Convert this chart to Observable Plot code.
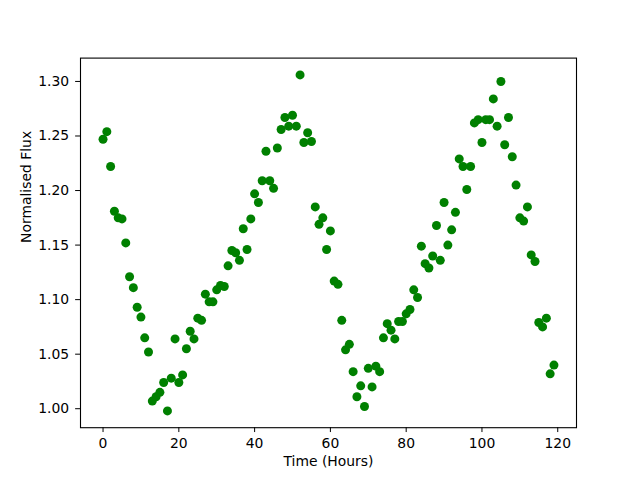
<!DOCTYPE html>
<html><head><meta charset="utf-8">
<script src="https://cdn.jsdelivr.net/npm/d3@7"></script>
<script src="https://cdn.jsdelivr.net/npm/@observablehq/plot@0.6"></script>
<style>html,body{margin:0;padding:0;background:#fff}</style>
</head><body><div id="chart"></div>
<script>
const hours = [0,1,2,3,4,5,6,7,8,9,10,11,12,13,14,15,16,17,18,19,
  20,21,22,23,24,25,26,27,28,29,30,31,32,33,34,35,36,37,38,39,
  40,41,42,43,44,45,46,47,48,49,50,51,52,53,54,55,56,57,58,59,
  60,61,62,63,64,65,66,67,68,69,70,71,72,73,74,75,76,77,78,79,
  80,81,82,83,84,85,86,87,88,89,90,91,92,93,94,95,96,97,98,99,
  100,101,102,103,104,105,106,107,108,109,110,111,112,113,114,115,116,117,118,119];
const flux = [1.247,1.254,1.222,1.181,1.175,1.174,1.152,1.121,1.111,1.093,
  1.084,1.065,1.052,1.007,1.011,1.015,1.024,0.998,1.028,1.064,
  1.024,1.031,1.055,1.071,1.064,1.083,1.081,1.105,1.098,1.098,
  1.109,1.113,1.112,1.131,1.145,1.143,1.136,1.165,1.146,1.174,
  1.197,1.189,1.209,1.236,1.209,1.202,1.239,1.256,1.267,1.259,
  1.269,1.259,1.306,1.244,1.253,1.245,1.185,1.169,1.175,1.146,
  1.163,1.117,1.114,1.081,1.054,1.059,1.034,1.011,1.021,1.002,
  1.037,1.020,1.039,1.034,1.065,1.078,1.072,1.064,1.080,1.080,
  1.087,1.091,1.109,1.102,1.149,1.133,1.129,1.140,1.168,1.136,
  1.189,1.150,1.164,1.180,1.229,1.222,1.201,1.222,1.262,1.265,
  1.244,1.265,1.265,1.284,1.259,1.300,1.242,1.267,1.231,1.205,
  1.175,1.172,1.185,1.141,1.135,1.079,1.075,1.083,1.032,1.040];
const xTicks = [0,20,40,60,80,100,120];
const yTicks = [1.00,1.05,1.10,1.15,1.20,1.25,1.30];
const xLabel = "Time (Hours)";
const yLabel = "Normalised Flux";

const data = hours.map((h,i)=>({hour:h, flux:flux[i]}));
const padded = a => { const [lo,hi] = d3.extent(a); const m = (hi-lo)*0.05; return [lo-m, hi+m]; };

const chart = Plot.plot({
  width: 640, height: 480,
  marginLeft: 80, marginRight: 64, marginTop: 57.6, marginBottom: 52.8,
  style: {fontFamily: "DejaVu Sans", fontSize: "13.9px", background: "white", color: "black"},
  x: {domain: padded(hours)},
  y: {domain: padded(flux)},
  marks: [
    Plot.axisX({ticks: xTicks, tickSize: 4.86, tickPadding: 5.5, label: null, tickFormat: d => String(d)}),
    Plot.axisY({ticks: yTicks, tickSize: 4.86, tickPadding: 6.5, label: null, tickFormat: d => d.toFixed(2)}),
    Plot.dot(data, {x: "hour", y: "flux", r: 4.5, fill: "#008000", stroke: "none"}),
    Plot.frame({stroke: "black", strokeWidth: 1.1}),
    Plot.text([xLabel], {text: d => d, frameAnchor: "bottom", dy: 38.5, fill: "black"}),
    Plot.text([yLabel], {text: d => d, frameAnchor: "left", dx: -54, rotate: -90, fill: "black"})
  ]
});
document.getElementById("chart").appendChild(chart);
</script>
</body></html>
